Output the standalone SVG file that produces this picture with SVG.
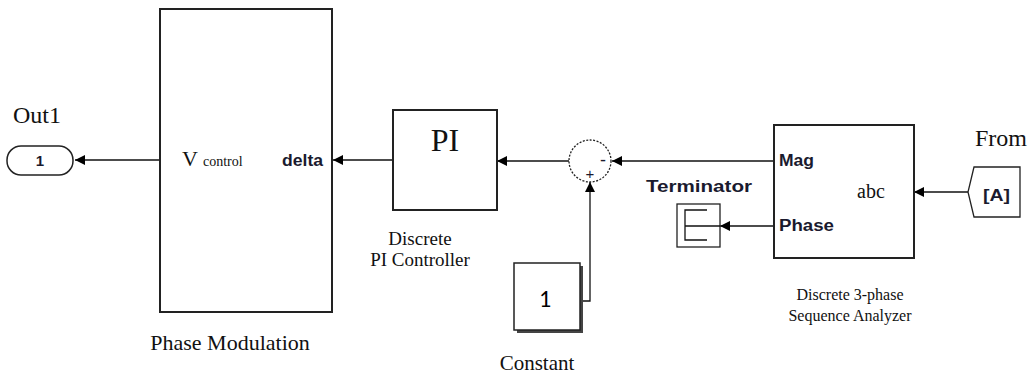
<svg xmlns="http://www.w3.org/2000/svg" width="1031" height="375" viewBox="0 0 1031 375">
<style>
.blk{fill:#fff;stroke:#222;stroke-width:2}
.ln{fill:none;stroke:#111;stroke-width:1.3}
.serif{font-family:"Liberation Serif","Times New Roman",serif;fill:#111}
.sans{font-family:"Liberation Sans",Arial,sans-serif;fill:#1a1a2e}
.port{font-family:"Liberation Sans",Arial,sans-serif;font-size:16px;font-weight:bold;fill:#1a1a2e}
</style>
<defs>
<marker id="arr" viewBox="0 0 10 10" refX="10" refY="5" markerWidth="10" markerHeight="10" markerUnits="userSpaceOnUse" orient="auto">
<path d="M0,0 L10,5 L0,10 z" fill="#000"/>
</marker>
</defs>
<g id="connectors">
<line class="ln" x1="160" y1="160" x2="75" y2="160" marker-end="url(#arr)"/>
<line class="ln" x1="393" y1="160" x2="333" y2="160" marker-end="url(#arr)"/>
<line class="ln" x1="569" y1="161" x2="497" y2="161" marker-end="url(#arr)"/>
<line class="ln" x1="774" y1="161" x2="612" y2="161" marker-end="url(#arr)"/>
<polyline class="ln" points="580,301 590,301 590,182" marker-end="url(#arr)"/>
<line class="ln" x1="774" y1="226" x2="720" y2="226" marker-end="url(#arr)"/>
<line class="ln" x1="968" y1="192" x2="914" y2="192" marker-end="url(#arr)"/>
</g>
<g id="out1">
<rect x="7" y="146" width="66" height="29" rx="14" ry="14" fill="#fff" stroke="#222" stroke-width="1.5"/>
<text class="sans" x="40" y="166" font-size="15" font-weight="bold" text-anchor="middle">1</text>
<text class="serif" x="13" y="123" font-size="24">Out1</text>
</g>
<g id="phase-modulation">
<rect class="blk" x="160" y="9" width="172" height="303"/>
<text class="serif" x="182" y="166" font-size="22">V <tspan font-size="14">control</tspan></text>
<text class="port" x="282" y="166" textLength="41" lengthAdjust="spacingAndGlyphs">delta</text>
<text class="serif" x="230" y="350" font-size="22" text-anchor="middle">Phase Modulation</text>
</g>
<g id="pi-controller">
<rect class="blk" x="393" y="110" width="104" height="100"/>
<text class="serif" x="445" y="151" font-size="32" text-anchor="middle">PI</text>
<text class="serif" x="420" y="245" font-size="19" text-anchor="middle">Discrete</text>
<text class="serif" x="420" y="266" font-size="19" text-anchor="middle">PI Controller</text>
</g>
<g id="sum">
<circle cx="590" cy="161" r="21" fill="#fff" stroke="#222" stroke-width="1.3" stroke-dasharray="2,1.5"/>
<text class="sans" x="603" y="166" font-size="18" text-anchor="middle">-</text>
<text class="sans" x="590" y="179" font-size="15" text-anchor="middle">+</text>
</g>
<g id="constant">
<rect x="517" y="266" width="66" height="67" fill="#444"/>
<rect x="514" y="263" width="66" height="67" fill="#fff" stroke="#222" stroke-width="1.5"/>
<text x="545" y="307" font-family="Carlito,'Liberation Sans',Arial,sans-serif" font-size="24" text-anchor="middle" fill="#000">1</text>
<text class="serif" x="537" y="370" font-size="21" text-anchor="middle">Constant</text>
</g>
<g id="sequence-analyzer">
<rect class="blk" x="774" y="125" width="140" height="133"/>
<text class="port" x="779" y="166" textLength="35" lengthAdjust="spacingAndGlyphs">Mag</text>
<text class="port" x="779" y="231" textLength="55" lengthAdjust="spacingAndGlyphs">Phase</text>
<text class="serif" x="857" y="198" font-size="20">abc</text>
<text class="serif" x="850" y="300" font-size="16" text-anchor="middle">Discrete 3-phase</text>
<text class="serif" x="850" y="321" font-size="16" text-anchor="middle">Sequence Analyzer</text>
</g>
<g id="terminator">
<rect x="677" y="204" width="43" height="43" fill="#fff" stroke="#222" stroke-width="1.3"/>
<path class="ln" d="M707,210 H685 V240 H707 M685,226 H720"/>
<text class="port" x="646" y="192" textLength="106" lengthAdjust="spacingAndGlyphs">Terminator</text>
</g>
<g id="from">
<polygon points="974,167 1020,167 1020,217 974,217 968,192" fill="#fff" stroke="#222" stroke-width="1.3"/>
<text class="port" x="983" y="201" textLength="27" lengthAdjust="spacingAndGlyphs">[A]</text>
<text class="serif" x="975" y="146" font-size="24">From</text>
</g>
</svg>
